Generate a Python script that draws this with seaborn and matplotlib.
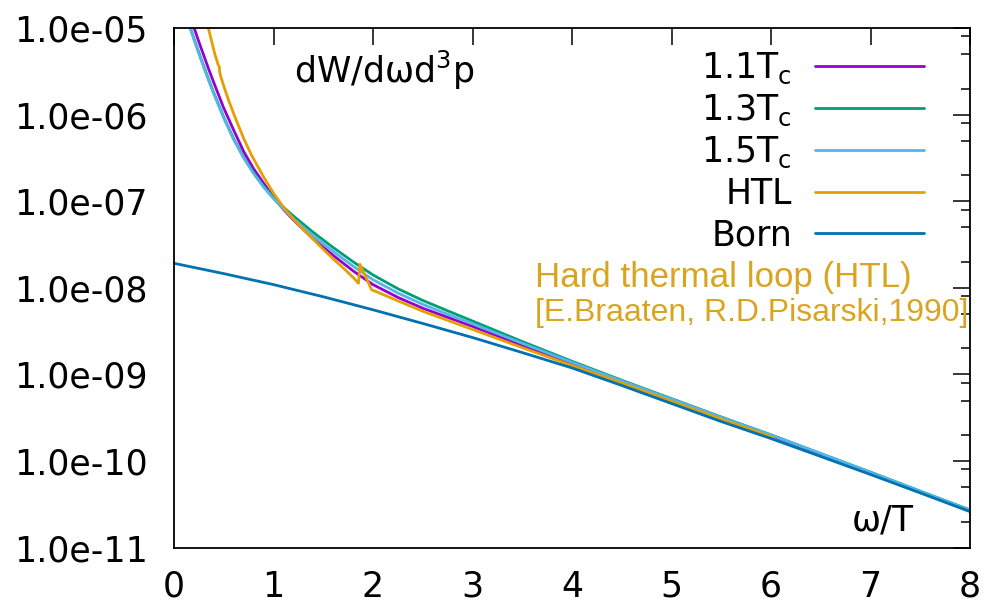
import matplotlib
matplotlib.use("Agg")
import matplotlib.pyplot as plt
import numpy as np
import pandas as pd
import seaborn as sns
from matplotlib.lines import Line2D
from matplotlib.ticker import FixedLocator, FuncFormatter, NullFormatter

# omega/T grid shared by the lattice spectra
omega_lat = [0.10, 0.15, 0.20, 0.25, 0.30, 0.35, 0.40, 0.50, 0.60, 0.70,
             0.80, 0.90, 1.00, 1.10, 1.20, 1.40, 1.60, 1.80, 2.00, 2.25,
             2.50, 2.75, 3.00, 3.50, 4.00, 4.50, 5.00, 5.50, 6.00, 6.50,
             7.00, 7.50, 8.00]

rate_11tc = [2.24e-5, 1.58e-5, 1.02e-5, 6.92e-6, 4.79e-6, 3.31e-6, 2.34e-6,
             1.19e-6, 6.61e-7, 3.76e-7, 2.37e-7, 1.62e-7, 1.11e-7, 8.04e-8,
             6.10e-8, 3.67e-8, 2.37e-8, 1.57e-8, 1.09e-8, 7.76e-9, 5.82e-9,
             4.57e-9, 3.59e-9, 2.16e-9, 1.32e-9, 8.17e-10, 5.09e-10,
             3.16e-10, 1.97e-10, 1.20e-10, 7.33e-11, 4.42e-11, 2.68e-11]

rate_13tc = [1.70e-5, 1.13e-5, 7.58e-6, 5.19e-6, 3.59e-6, 2.51e-6, 1.78e-6,
             9.33e-7, 5.25e-7, 3.23e-7, 2.14e-7, 1.49e-7, 1.11e-7, 8.51e-8,
             6.76e-8, 4.37e-8, 2.92e-8, 2.00e-8, 1.41e-8, 9.77e-9, 7.16e-9,
             5.43e-9, 4.14e-9, 2.40e-9, 1.42e-9, 8.57e-10, 5.26e-10,
             3.23e-10, 2.01e-10, 1.22e-10, 7.46e-11, 4.50e-11, 2.73e-11]

rate_15tc = [1.66e-5, 1.10e-5, 7.41e-6, 5.07e-6, 3.51e-6, 2.45e-6, 1.74e-6,
             9.12e-7, 5.13e-7, 3.16e-7, 2.09e-7, 1.46e-7, 1.07e-7, 8.13e-8,
             6.31e-8, 3.98e-8, 2.63e-8, 1.78e-8, 1.24e-8, 8.71e-9, 6.46e-9,
             4.95e-9, 3.85e-9, 2.29e-9, 1.38e-9, 8.41e-10, 5.19e-10,
             3.20e-10, 2.00e-10, 1.22e-10, 7.41e-11, 4.47e-11, 2.71e-11]

# hard thermal loop result (with its cusp near omega/T ~ 1.86)
omega_htl = [0.30, 0.345, 0.41, 0.445, 0.455, 0.458, 0.47, 0.50, 0.55, 0.61,
             0.70, 0.78, 0.90, 1.00, 1.10, 1.20, 1.30, 1.40, 1.50, 1.60,
             1.70, 1.80, 1.854, 1.869, 1.987, 2.02, 2.25, 2.50, 2.75, 3.00,
             3.50, 4.00, 4.50, 5.00, 5.50, 6.00, 6.02]
rate_htl = [1.62e-5, 1.00e-5, 5.01e-6, 3.72e-6, 3.59e-6, 3.16e-6, 2.75e-6,
            2.14e-6, 1.45e-6, 9.55e-7, 5.31e-7, 3.39e-7, 1.91e-7, 1.24e-7,
            8.51e-8, 6.24e-8, 4.73e-8, 3.63e-8, 2.79e-8, 2.16e-8, 1.70e-8,
            1.32e-8, 1.13e-8, 1.87e-8, 9.46e-9, 9.18e-9, 7.08e-9, 5.37e-9,
            4.22e-9, 3.31e-9, 2.04e-9, 1.27e-9, 7.94e-10, 4.90e-10,
            3.05e-10, 1.91e-10, 1.87e-10]

# leading-order (Born) rate
omega_born = [0.0, 0.5, 1.0, 1.5, 2.0, 2.5, 3.0, 3.5, 4.0, 4.5, 5.0, 5.5,
              6.0, 6.5, 7.0, 7.5, 8.0]
rate_born = [1.92e-8, 1.46e-8, 1.09e-8, 7.89e-9, 5.58e-9, 3.88e-9, 2.67e-9,
             1.79e-9, 1.19e-9, 7.46e-10, 4.62e-10, 2.86e-10, 1.82e-10,
             1.13e-10, 7.00e-11, 4.29e-11, 2.61e-11]

series_names = ["1.1Tc", "1.3Tc", "1.5Tc", "HTL", "Born"]
series_labels = ["1.1T$_{\\mathregular{c}}$", "1.3T$_{\\mathregular{c}}$",
                 "1.5T$_{\\mathregular{c}}$", "HTL", "Born"]
series_colors = ["#9400D3", "#009E73", "#56B4E9", "#E69F00", "#0072B2"]

y_major = [1e-11, 1e-10, 1e-9, 1e-8, 1e-7, 1e-6, 1e-5]
x_major = [0, 1, 2, 3, 4, 5, 6, 7, 8]

frames = [
    pd.DataFrame({"omega": omega_lat, "rate": rate_11tc, "set": "1.1Tc"}),
    pd.DataFrame({"omega": omega_lat, "rate": rate_13tc, "set": "1.3Tc"}),
    pd.DataFrame({"omega": omega_lat, "rate": rate_15tc, "set": "1.5Tc"}),
    pd.DataFrame({"omega": omega_htl, "rate": rate_htl, "set": "HTL"}),
    pd.DataFrame({"omega": omega_born, "rate": rate_born, "set": "Born"}),
]
df = pd.concat(frames, ignore_index=True)

sns.set_style("white")
plt.rcParams["font.family"] = ["DejaVu Sans"]
plt.rcParams["mathtext.fontset"] = "dejavusans"
plt.rcParams["text.color"] = "black"
plt.rcParams["axes.labelcolor"] = "black"
plt.rcParams["xtick.color"] = "black"
plt.rcParams["ytick.color"] = "black"

W, H = 986, 604
fig = plt.figure(figsize=(W / 100, H / 100), dpi=100)
x0, x1, y0, y1 = 174, 970, 28, 547.7
ax = fig.add_axes([x0 / W, 1 - y1 / H, (x1 - x0) / W, (y1 - y0) / H])

sns.lineplot(data=df, x="omega", y="rate", hue="set", hue_order=series_names,
             palette=series_colors, estimator=None, sort=False, linewidth=2.0,
             legend=False, ax=ax)

ax.set_yscale("log")
ax.set_xlim(0, 8)
ax.set_ylim(1e-11, 1e-5)

ax.xaxis.set_major_locator(FixedLocator(x_major))
ax.yaxis.set_major_locator(FixedLocator(y_major))
minor = [m * d for d in y_major[:-1] for m in (2, 5, 8)]
ax.yaxis.set_minor_locator(FixedLocator(minor))
ax.yaxis.set_minor_formatter(NullFormatter())
ax.yaxis.set_major_formatter(FuncFormatter(lambda v, _: f"{v:.1e}"))

ax.tick_params(axis="both", which="both", direction="in", top=True,
               right=True, colors="black", labelcolor="black", labelsize=25,
               width=1.1)
ax.tick_params(axis="both", which="major", length=12)
ax.tick_params(axis="y", which="minor", length=6.5)
ax.tick_params(axis="y", which="major", pad=19)
ax.tick_params(axis="x", which="major", pad=16)

for s in ax.spines.values():
    s.set_visible(True)
    s.set_color("black")
    s.set_linewidth(1.3)

ax.set_xlabel("ω/T", fontsize=25, ha="left", va="baseline", color="black")
ax.xaxis.set_label_coords((852 - x0) / (x1 - x0), (y1 - 530) / (y1 - y0))
ax.set_ylabel("dW/dωd$^{3}$p", fontsize=25, rotation=0, ha="left",
              va="baseline", color="black")
ax.yaxis.set_label_coords((294 - x0) / (x1 - x0), (y1 - 83) / (y1 - y0))

handles = [Line2D([], [], color=c, lw=2.0) for c in series_colors]
leg = ax.legend(handles, series_labels, loc="upper right",
                bbox_to_anchor=((924 - x0) / (x1 - x0), (y1 - 50.5) / (y1 - y0)),
                frameon=False, fontsize=25, markerfirst=False,
                handlelength=3.14, handletextpad=0.66, labelspacing=0.2,
                borderpad=0, borderaxespad=0)
for t in leg.get_texts():
    t.set_color("black")

gold = "#D9A520"
ax.text((535 - x0) / (x1 - x0), (y1 - 286.7) / (y1 - y0),
        "Hard thermal loop (HTL)", transform=ax.transAxes, color=gold,
        fontsize=25.1, family=["Liberation Sans"], ha="left", va="baseline")
ax.text((535 - x0) / (x1 - x0), (y1 - 320.5) / (y1 - y0),
        "[E.Braaten, R.D.Pisarski,1990]", transform=ax.transAxes, color=gold,
        fontsize=23.0, family=["Liberation Sans"], ha="left", va="baseline")

fig.savefig("out.png", dpi=100)
